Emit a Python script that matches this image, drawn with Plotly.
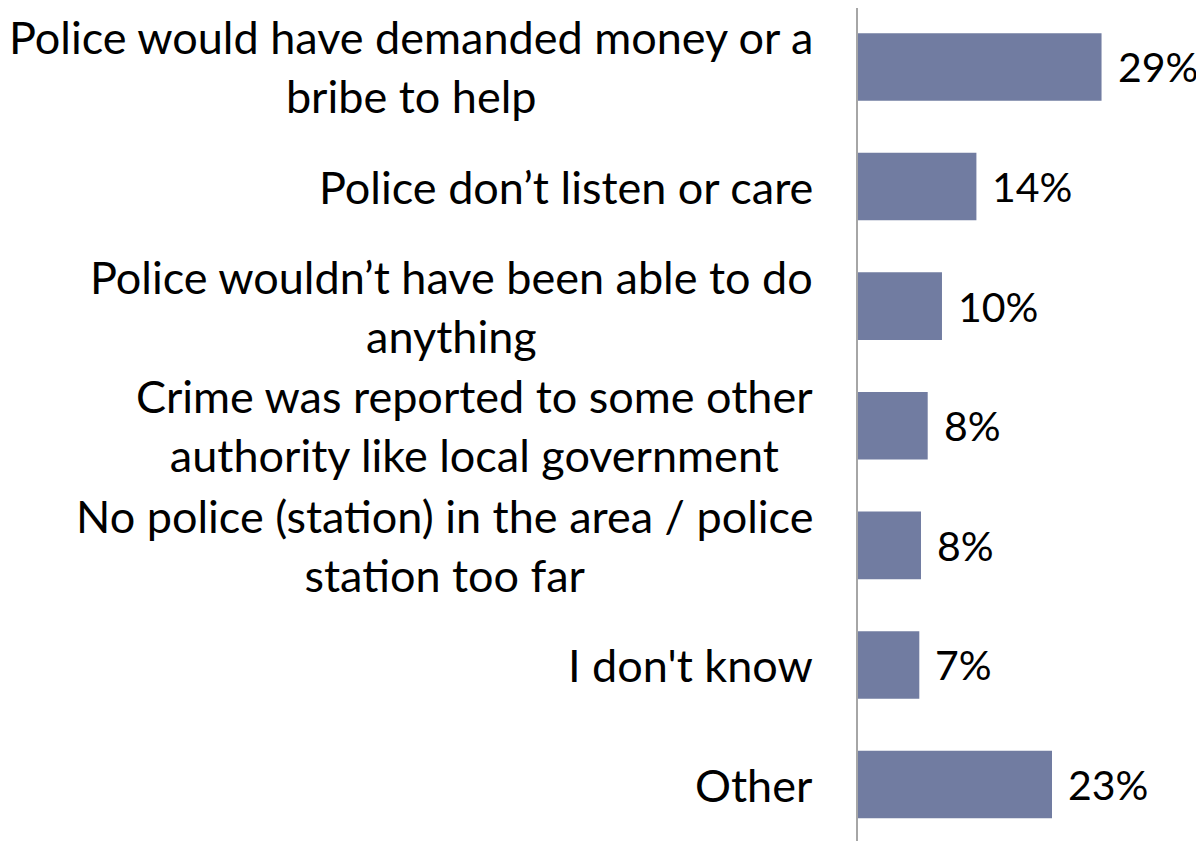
import plotly.graph_objects as go

categories = [
    "Police would have demanded money or a<br>bribe to help",
    "Police don’t listen or care",
    "Police wouldn’t have been able to do<br>anything",
    "Crime was reported to some other<br>authority like local government",
    "No police (station) in the area / police<br>station too far",
    "I don't know",
    "Other",
]
values = [29.0, 14.1, 10.0, 8.3, 7.5, 7.3, 23.1]
value_labels = ["29%", "14%", "10%", "8%", "8%", "7%", "23%"]

FONT = "Lato"
BAR_COLOR = "#717ca1"

fig = go.Figure()
fig.add_trace(go.Bar(
    x=values,
    y=categories,
    orientation="h",
    marker=dict(color=BAR_COLOR, line=dict(width=0)),
    width=0.565,
    hoverinfo="skip",
))

annotations = []
for cat in categories:
    annotations.append(dict(
        xref="paper", yref="y", x=0, y=cat,
        text=cat, showarrow=False,
        xanchor="right", yanchor="middle", align="center",
        xshift=-43,
        font=dict(family=FONT, size=45, color="black"),
    ))
for cat, v, lab in zip(categories, values, value_labels):
    annotations.append(dict(
        xref="x", yref="y", x=v, y=cat,
        text=lab, showarrow=False,
        xanchor="left", yanchor="middle",
        xshift=14,
        font=dict(family=FONT, size=41, color="black"),
    ))

fig.update_layout(
    width=1196, height=833,
    margin=dict(l=850, r=0, t=0, b=0),
    paper_bgcolor="white", plot_bgcolor="white",
    showlegend=False,
    xaxis=dict(range=[0, 41.2], visible=False, fixedrange=True),
    yaxis=dict(
        type="category",
        categoryorder="array", categoryarray=categories,
        range=[6.472, -0.493],
        showticklabels=False, ticks="",
        showgrid=False, zeroline=False,
        showline=True, linecolor="#a6a6a6", linewidth=1.5,
        fixedrange=True,
    ),
    annotations=annotations,
)

fig.write_html("out.html")
